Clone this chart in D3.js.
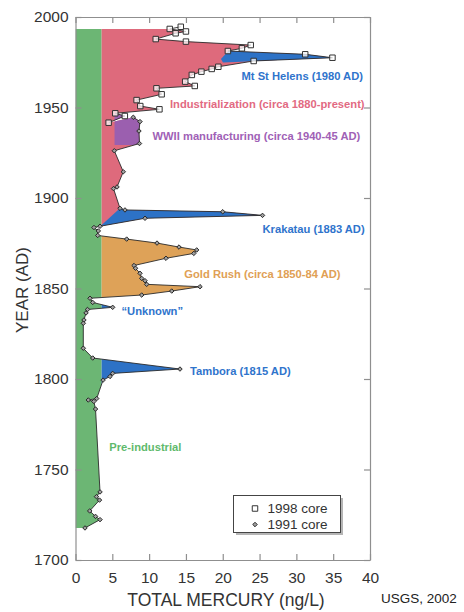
<!DOCTYPE html>
<html>
<head>
<meta charset="utf-8">
<script src="https://cdn.jsdelivr.net/npm/d3@7"></script>
<style>
  body { margin: 0; background: #fff; }
  svg { display: block; }
  .axis text { font-family: "Liberation Sans", Arial, Helvetica, sans-serif; fill: #333; }
  .axis path, .axis line { stroke: #8f8f8f; stroke-width: 1.2; }
</style>
</head>
<body>
<svg id="chart" width="464" height="612"></svg>
<script>
// Total mercury in the ice core, 1998 core (squares) and 1991 core (diamonds)
const core1998Year = [1994.6, 1993.4, 1992.0, 1991.0, 1987.8, 1986.4, 1984.5, 1982.7, 1981.2, 1979.4,
  1977.5, 1975.7, 1972.5, 1971.3, 1969.8, 1968.0, 1964.3, 1961.9, 1960.6, 1957.3,
  1954.1, 1950.8, 1949.0, 1946.8, 1945.3, 1941.6];
const core1998Hg = [14.3, 12.8, 15.0, 13.6, 10.9, 15.0, 23.8, 22.6, 20.7, 31.2,
  34.9, 24.2, 19.4, 18.5, 17.1, 15.8, 14.9, 16.2, 11.0, 11.7,
  8.3, 8.8, 11.4, 5.4, 6.7, 4.5];

const core1991Year = [1944.6, 1942.2, 1937.0, 1930.1, 1926.1, 1914.5, 1906.1, 1905.2, 1894.3, 1893.4,
  1892.4, 1890.4, 1888.8, 1884.4, 1883.7, 1881.8, 1879.3, 1877.3, 1875.1, 1872.9,
  1871.3, 1869.4, 1866.7, 1862.7, 1861.2, 1858.4, 1855.6, 1854.3, 1852.3, 1851.0,
  1848.6, 1846.4, 1844.6, 1842.3, 1839.6, 1838.4, 1836.5, 1832.6, 1830.8, 1817.0,
  1811.6, 1805.5, 1803.1, 1801.4, 1799.4, 1789.2, 1788.4, 1787.6, 1783.4, 1737.6,
  1735.0, 1733.1, 1727.1, 1724.1, 1722.3, 1717.7];
const core1991Hg = [7.85, 8.76, 8.62, 8.69, 5.27, 6.49, 5.64, 5.16, 6.04, 6.72,
  20.0, 25.4, 9.44, 3.33, 2.51, 3.10, 3.02, 6.95, 11.07, 14.06,
  16.46, 16.07, 12.29, 7.95, 8.15, 8.76, 8.99, 9.44, 9.67, 16.91,
  13.07, 8.99, 1.97, 2.34, 5.05, 1.63, 1.43, 1.15, 1.06, 1.06,
  2.34, 14.19, 5.05, 4.69, 3.74, 2.88, 1.74, 2.49, 2.72, 3.33,
  2.85, 3.26, 1.93, 2.72, 3.33, 1.29];

const xTicks = [0, 5, 10, 15, 20, 25, 30, 35, 40];
const yTicks = [1700, 1750, 1800, 1850, 1900, 1950, 2000];

// Background level separating natural deposition from anthropogenic/volcanic input
const backgroundHg = 3.55;

// Shaded periods, outlined in (mercury, year); each is trimmed to the measured profile
const preIndustrialZone = [[0, 1717.7], [backgroundHg, 1717.7], [backgroundHg, 1993.4], [0, 1993.4]];
const industrialZone = [[backgroundHg, 1884.2], [40, 1884.2], [40, 1993.4], [backgroundHg, 1993.4]];
const goldRushZone = [[backgroundHg, 1845.0], [40, 1845.0], [40, 1881.0], [backgroundHg, 1881.0]];
const wwiiZone = [[5.3, 1929.3], [40, 1929.3], [40, 1946.0], [5.3, 1946.0]];
const mtStHelensZone = [[20.75, 1981.2], [40, 1981.2], [40, 1975.5], [24.24, 1975.5], [20.03, 1974.9], [19.76, 1976.8]];
const krakatauZone = [[backgroundHg, 1885.1], [6.04, 1894.3], [40, 1894.3], [40, 1884.0], [backgroundHg, 1884.0]];
const unknownZone = [[backgroundHg, 1836.0], [40, 1836.0], [40, 1843.5], [backgroundHg, 1843.5]];
const tamboraZone = [[backgroundHg, 1796.0], [40, 1796.0], [40, 1813.0], [backgroundHg, 1813.0]];

const colors = {
  green: "#6cb674", pink: "#de6a7c", gold: "#dea258", purple: "#9b5faf", blue: "#2d72c6"
};

const svg = d3.select("#chart");
const x = d3.scaleLinear().domain([0, 40]).range([75.5, 370]);
const y = d3.scaleLinear().domain([1700, 2000]).range([560, 17]);

const core1998 = core1998Year.map((yr, i) => ({ year: yr, hg: core1998Hg[i] }));
const core1991 = core1991Year.map((yr, i) => ({ year: yr, hg: core1991Hg[i] }));

const line = d3.line().x(d => x(d.hg)).y(d => y(d.year));

// Region between zero and the measured profile (both cores joined)
const profile = [{ hg: 0, year: core1998Year[0] }, ...core1998, ...core1991,
  { hg: 0, year: core1991Year[core1991Year.length - 1] }];
svg.append("defs").append("clipPath").attr("id", "under-profile")
  .append("path").attr("d", line(profile) + "Z");

const zoneLine = d3.line().x(d => x(d[0])).y(d => y(d[1]));
const zones = [
  { shape: preIndustrialZone, color: colors.green },
  { shape: industrialZone, color: colors.pink },
  { shape: goldRushZone, color: colors.gold },
  { shape: wwiiZone, color: colors.purple },
  { shape: mtStHelensZone, color: colors.blue },
  { shape: krakatauZone, color: colors.blue },
  { shape: unknownZone, color: colors.blue },
  { shape: tamboraZone, color: colors.blue }
];
svg.append("g").attr("clip-path", "url(#under-profile)")
  .selectAll("path").data(zones).join("path")
  .attr("d", d => zoneLine(d.shape) + "Z")
  .attr("fill", d => d.color);

// Axes: labelled on left/bottom, tick-only on top/right; ticks point inward
const fmt = d3.format("d");
svg.append("g").attr("class", "axis").attr("transform", `translate(0,${y(1700)})`)
  .call(d3.axisBottom(x).tickValues(xTicks).tickSizeInner(-6).tickSizeOuter(0).tickPadding(12).tickFormat(fmt))
  .selectAll("text").style("font-size", "15.5px");
svg.append("g").attr("class", "axis").attr("transform", `translate(${x(0)},0)`)
  .call(d3.axisLeft(y).tickValues(yTicks).tickSizeInner(-6).tickSizeOuter(0).tickPadding(7).tickFormat(fmt))
  .selectAll("text").style("font-size", "15.5px");
svg.append("g").attr("class", "axis").attr("transform", `translate(0,${y(2000)})`)
  .call(d3.axisTop(x).tickValues(xTicks).tickSizeInner(-6).tickSizeOuter(0).tickFormat(""));
svg.append("g").attr("class", "axis").attr("transform", `translate(${x(40)},0)`)
  .call(d3.axisRight(y).tickValues(yTicks).tickSizeInner(-6).tickSizeOuter(0).tickFormat(""));

// Profile lines
[core1998, core1991].forEach(series => {
  svg.append("path").datum(series).attr("d", line)
    .attr("fill", "none").attr("stroke", "#2a2a2a").attr("stroke-width", 0.9);
});

// Markers: open squares and small square-on-point diamonds
const squareSym = d3.symbol().type(d3.symbolSquare).size(30);
const diamondSym = d3.symbol().type(d3.symbolSquare).size(10);
svg.append("g").selectAll("path").data(core1998).join("path")
  .attr("transform", d => `translate(${x(d.hg)},${y(d.year)})`)
  .attr("d", squareSym).attr("fill", "#fff").attr("fill-opacity", 0.75)
  .attr("stroke", "#333").attr("stroke-width", 1);
svg.append("g").selectAll("path").data(core1991).join("path")
  .attr("transform", d => `translate(${x(d.hg)},${y(d.year)}) rotate(45)`)
  .attr("d", diamondSym).attr("fill", "#a0a0a0")
  .attr("stroke", "#222").attr("stroke-width", 0.9);

// Period annotations
const annotations = [
  { text: "Mt St Helens (1980 AD)", color: "#2f74cc", px: 241.5, py: 79.5 },
  { text: "Industrialization (circa 1880-present)", color: "#e26a82", px: 170, py: 107.5 },
  { text: "WWII manufacturing (circa 1940-45 AD)", color: "#a061b6", px: 152.5, py: 139.8 },
  { text: "Krakatau (1883 AD)", color: "#2f74cc", px: 262.5, py: 233 },
  { text: "Gold Rush (circa 1850-84 AD)", color: "#e0a055", px: 184.3, py: 278 },
  { text: "\u201cUnknown\u201d", color: "#2f74cc", px: 121.5, py: 314.5 },
  { text: "Tambora (1815 AD)", color: "#2f74cc", px: 190, py: 375 },
  { text: "Pre-industrial", color: "#5fba6c", px: 109.3, py: 451 }
];
svg.append("g").selectAll("text").data(annotations).join("text")
  .attr("x", d => d.px).attr("y", d => d.py)
  .attr("fill", d => d.color)
  .style("font-family", "'Liberation Sans', Arial, Helvetica, sans-serif")
  .style("font-weight", "bold").style("font-size", "11.2px")
  .text(d => d.text);

// Legend
const lg = svg.append("g").attr("transform", "translate(233.5,495.5)");
lg.append("rect").attr("x", 2.5).attr("y", 2.5).attr("width", 107).attr("height", 37).attr("fill", "#b5b5b5");
lg.append("rect").attr("width", 107).attr("height", 37).attr("fill", "#fff").attr("stroke", "#444").attr("stroke-width", 1);
lg.append("path").attr("transform", "translate(21.5,13)").attr("d", squareSym)
  .attr("fill", "#fff").attr("stroke", "#333");
lg.append("path").attr("transform", "translate(21.5,29) rotate(45)").attr("d", diamondSym)
  .attr("fill", "#a0a0a0").attr("stroke", "#222").attr("stroke-width", 0.9);
lg.selectAll("text").data(["1998 core", "1991 core"]).join("text")
  .attr("x", 34).attr("y", (d, i) => 17.5 + i * 16)
  .attr("fill", "#333")
  .style("font-family", "'Liberation Sans', Arial, Helvetica, sans-serif")
  .style("font-size", "13.5px")
  .text(d => d);

// Axis titles and credit
const sans = "'Liberation Sans', Arial, Helvetica, sans-serif";
svg.append("text").attr("transform", "translate(27.5,290) rotate(-90)")
  .attr("text-anchor", "middle").attr("fill", "#333")
  .style("font-family", sans).style("font-size", "17px").text("YEAR (AD)");
svg.append("text").attr("x", 226).attr("y", 605.5)
  .attr("text-anchor", "middle").attr("fill", "#333")
  .style("font-family", sans).style("font-size", "17.5px").text("TOTAL MERCURY (ng/L)");
svg.append("text").attr("x", 381).attr("y", 602.5)
  .attr("fill", "#222")
  .style("font-family", sans).style("font-size", "13.5px").text("USGS, 2002");
</script>
</body>
</html>
